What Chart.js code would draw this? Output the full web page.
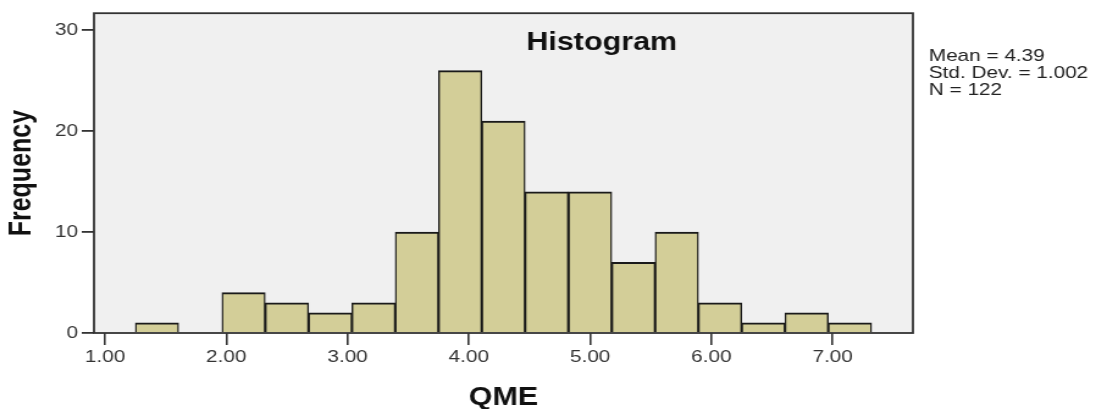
<!DOCTYPE html>
<html>
<head>
<meta charset="utf-8">
<script src="https://cdn.jsdelivr.net/npm/chart.js@4"></script>
<style>
  html, body { margin: 0; padding: 0; background: #fff; overflow: hidden; }
  /* the chart is laid out narrow and widened, like the exported SPSS image */
  #wrap { width: 898px; height: 409px; transform: scaleX(1.2205); transform-origin: 0 0; }
</style>
</head>
<body>
<div id="wrap"><canvas id="hist"></canvas></div>
<script>
const binEdges = [1.250, 1.607, 1.964, 2.321, 2.679, 3.036, 3.393, 3.750, 4.107, 4.464, 4.821, 5.179, 5.536, 5.893, 6.250, 6.607, 6.964, 7.321];
const counts = [1, 0, 4, 3, 2, 3, 10, 26, 21, 14, 14, 7, 10, 3, 1, 2, 1];
const xTicks = [1, 2, 3, 4, 5, 6, 7];
const yTicks = [0, 10, 20, 30];
const stats = ["Mean = 4.39", "Std. Dev. = 1.002", "N = 122"];

const FONT = "'Liberation Sans', Arial, sans-serif";

// one bar per bin, placed at the bin middle
const points = counts.map((n, i) => ({ x: (binEdges[i] + binEdges[i + 1]) / 2, y: n }));

const frame = {
  id: "frame",
  beforeDraw(chart) {
    const { ctx, chartArea: a } = chart;
    ctx.save();
    ctx.fillStyle = "#f0f0f0";
    ctx.fillRect(a.left, a.top, a.right - a.left, a.bottom - a.top);
    ctx.restore();
  },
  afterDatasetsDraw(chart) {
    const { ctx, chartArea: a } = chart;
    ctx.save();
    ctx.strokeStyle = "#333";
    ctx.lineWidth = 1.8;
    ctx.strokeRect(a.left, a.top, a.right - a.left, a.bottom - a.top);

    ctx.fillStyle = "#111";
    ctx.font = "bold 25px " + FONT;
    ctx.textAlign = "center";
    ctx.textBaseline = "alphabetic";
    ctx.fillText("Histogram", 493, 50);

    ctx.fillStyle = "#222";
    ctx.font = "17px " + FONT;
    ctx.textAlign = "left";
    stats.forEach((line, i) => ctx.fillText(line, 761, 61 + i * 17));
    ctx.restore();
  }
};

new Chart(document.getElementById("hist"), {
  type: "bar",
  data: {
    datasets: [{
      data: points,
      backgroundColor: "#d3ce98",
      borderColor: "#1a1a1a",
      borderWidth: { top: 2, left: 1.4, right: 1.4, bottom: 0 },
      borderSkipped: "start",
      barPercentage: 1,
      categoryPercentage: 1
    }]
  },
  plugins: [frame],
  options: {
    responsive: true,
    maintainAspectRatio: false,
    animation: false,
    layout: { padding: { top: 11, right: 150, bottom: 0, left: 0 } },
    plugins: { legend: { display: false }, tooltip: { enabled: false } },
    scales: {
      x: {
        type: "linear",
        min: 0.909,
        max: 7.662,
        offset: false,
        afterFit(scale) { scale.height = 76; },
        afterBuildTicks(scale) { scale.ticks = xTicks.map((v) => ({ value: v })); },
        grid: { offset: false, drawOnChartArea: false, tickLength: 12, color: "#333", lineWidth: 1.6 },
        border: { display: false },
        ticks: {
          callback: (v) => v.toFixed(2),
          padding: 2,
          color: "#333",
          maxRotation: 0,
          autoSkip: false,
          font: { family: FONT, size: 17 }
        },
        title: {
          display: true,
          text: "QME",
          color: "#111",
          padding: { top: 0, bottom: -4 },
          font: { family: FONT, size: 25, weight: "bold" }
        }
      },
      y: {
        min: 0,
        max: 31.7,
        afterFit(scale) { scale.width = 77; },
        afterBuildTicks(scale) { scale.ticks = yTicks.map((v) => ({ value: v })); },
        grid: { drawOnChartArea: false, tickLength: 10, color: "#333", lineWidth: 1.8 },
        border: { display: false },
        ticks: {
          padding: 3,
          color: "#333",
          font: { family: FONT, size: 17 }
        },
        title: {
          display: true,
          text: "Frequency",
          color: "#111",
          padding: { top: 3, bottom: 0 },
          font: { family: FONT, size: 25, weight: "bold" }
        }
      }
    }
  }
});
</script>
</body>
</html>
